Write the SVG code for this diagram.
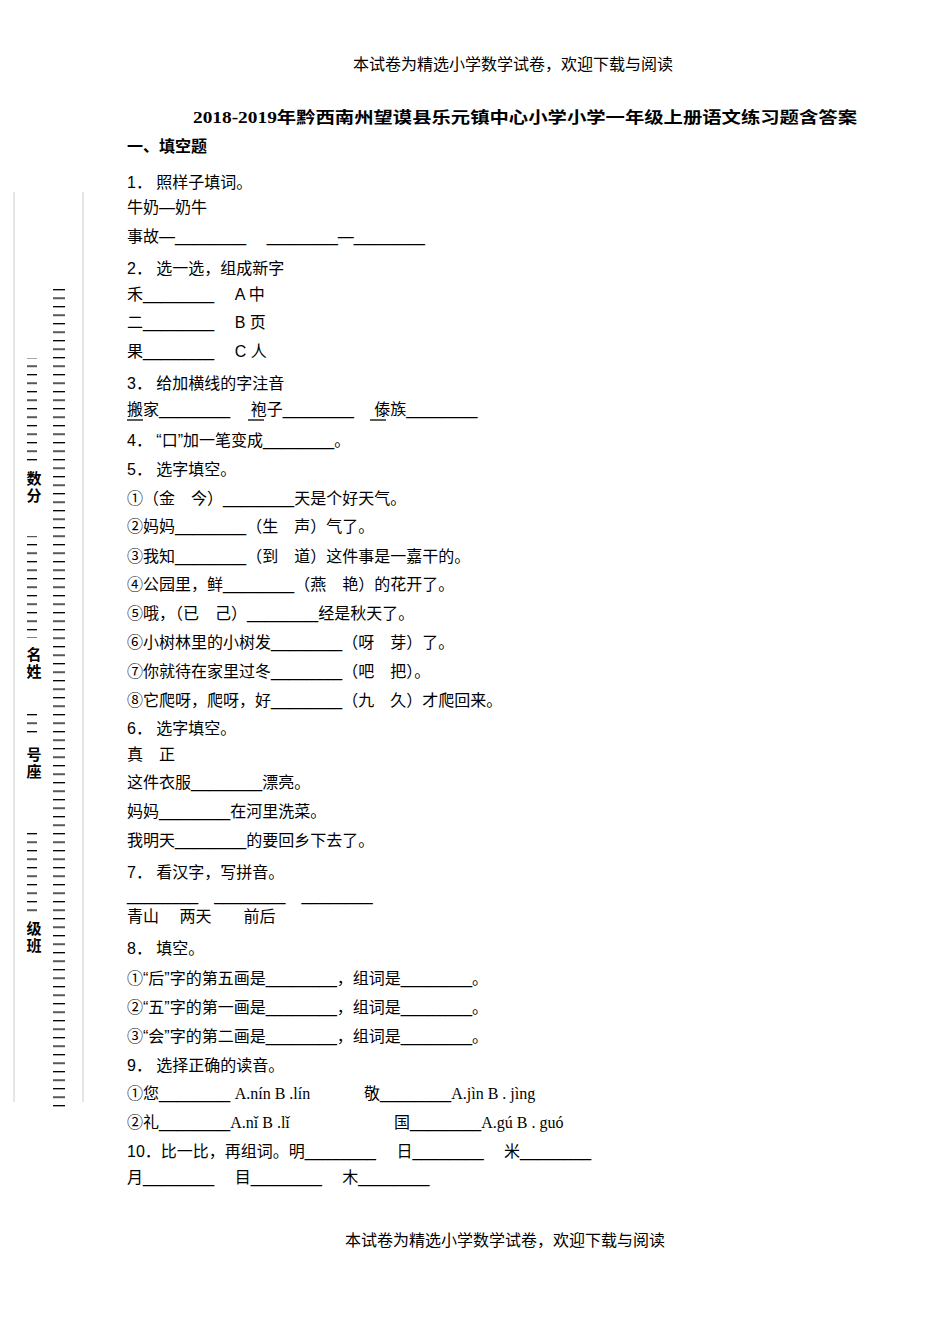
<svg xmlns="http://www.w3.org/2000/svg" width="950" height="1344" viewBox="0 0 950 1344" xml:space="preserve">
<defs>
<style>
text{font-family:"Liberation Sans","Noto Sans CJK SC",sans-serif;font-size:16px;fill:#000}
.s{font-family:"Liberation Serif","Noto Sans CJK SC",serif}
.b{font-weight:bold}
.m{font-size:15px;font-weight:bold}
</style>
<pattern id="d" width="12" height="8.5" patternUnits="userSpaceOnUse"><rect x="0" y="0" width="12" height="1.3" fill="#000"/></pattern>
</defs>
<rect width="950" height="1344" fill="#fff"/>
<g id="margin">
<line x1="14" y1="192" x2="14" y2="1102" stroke="#ccc" stroke-width="1"/>
<line x1="83" y1="192" x2="83" y2="1102" stroke="#ccc" stroke-width="1"/>
<rect x="53" y="286" width="12" height="822" fill="url(#d)"/>
<rect x="27" y="358" width="10" height="106" fill="url(#d)"/>
<rect x="27" y="536" width="10" height="102" fill="url(#d)"/>
<rect x="27" y="712" width="10" height="26" fill="url(#d)"/>
<rect x="27" y="828" width="10" height="86" fill="url(#d)"/>
<text x="34" y="484" class="m" text-anchor="middle">数</text>
<text x="34" y="501" class="m" text-anchor="middle">分</text>
<text x="34" y="660" class="m" text-anchor="middle">名</text>
<text x="34" y="677" class="m" text-anchor="middle">姓</text>
<text x="34" y="760" class="m" text-anchor="middle">号</text>
<text x="34" y="777" class="m" text-anchor="middle">座</text>
<text x="34" y="934" class="m" text-anchor="middle">级</text>
<text x="34" y="951" class="m" text-anchor="middle">班</text>
</g>
<text class="s" x="513" y="70" text-anchor="middle">本试卷为精选小学数学试卷，欢迎下载与阅读</text>
<text class="s b" x="193" y="123" font-size="18" textLength="664" lengthAdjust="spacingAndGlyphs">2018-2019年黔西南州望谟县乐元镇中心小学小学一年级上册语文练习题含答案</text>
<text class="b" x="127" y="152" font-size="18">一、填空题</text>
<text x="127" y="188">1． 照样子填词。</text>
<text x="127" y="213">牛奶—奶牛</text>
<text x="127" y="242">事故—________　 ________—________</text>
<text x="127" y="274">2． 选一选，组成新字</text>
<text x="127" y="300">禾________　 A 中</text>
<text x="127" y="328">二________　 B 页</text>
<text x="127" y="357">果________　 C 人</text>
<text x="127" y="389">3． 给加横线的字注音</text>
<text x="127" y="415">搬家________　 袍子________　 傣族________</text>
<g stroke="#000" stroke-width="1.3"><line x1="127" y1="420" x2="143" y2="420"/><line x1="248" y1="420" x2="264" y2="420"/><line x1="370" y1="420" x2="386" y2="420"/></g>
<text x="127" y="446">4． “口”加一笔变成________。</text>
<text x="127" y="475">5． 选字填空。</text>
<text x="127" y="504">①（金　今）________天是个好天气。</text>
<text x="127" y="532">②妈妈________（生　声）气了。</text>
<text x="127" y="562">③我知________（到　道）这件事是一嘉干的。</text>
<text x="127" y="590">④公园里，鲜________（燕　艳）的花开了。</text>
<text x="127" y="619">⑤哦，（已　己）________经是秋天了。</text>
<text x="127" y="648">⑥小树林里的小树发________（呀　芽）了。</text>
<text x="127" y="677">⑦你就待在家里过冬________（吧　把）。</text>
<text x="127" y="706">⑧它爬呀，爬呀，好________（九　久）才爬回来。</text>
<text x="127" y="734">6． 选字填空。</text>
<text x="127" y="760">真　正</text>
<text x="127" y="788">这件衣服________漂亮。</text>
<text x="127" y="817">妈妈________在河里洗菜。</text>
<text x="127" y="846">我明天________的要回乡下去了。</text>
<text x="127" y="878">7． 看汉字，写拼音。</text>
<text x="127" y="901">________　________　________</text>
<text x="127" y="922">青山　 两天　　前后</text>
<text x="127" y="954">8． 填空。</text>
<text x="127" y="984">①“后”字的第五画是________，组词是________。</text>
<text x="127" y="1013">②“五”字的第一画是________，组词是________。</text>
<text x="127" y="1042">③“会”字的第二画是________，组词是________。</text>
<text x="127" y="1071">9． 选择正确的读音。</text>
<text x="127" y="1099">①您________ <tspan class="s">A.nín  B .lín</tspan></text>
<text x="364" y="1099">敬________<tspan class="s">A.jìn    B . jìng</tspan></text>
<text x="127" y="1128">②礼________<tspan class="s">A.nǐ  B .lǐ</tspan></text>
<text x="394" y="1128">国________<tspan class="s">A.gú     B . guó</tspan></text>
<text x="127" y="1157">10．比一比，再组词。明________　 日________　 米________</text>
<text x="127" y="1183">月________　 目________　 木________</text>
<text class="s" x="505" y="1246" text-anchor="middle">本试卷为精选小学数学试卷，欢迎下载与阅读</text>
</svg>
